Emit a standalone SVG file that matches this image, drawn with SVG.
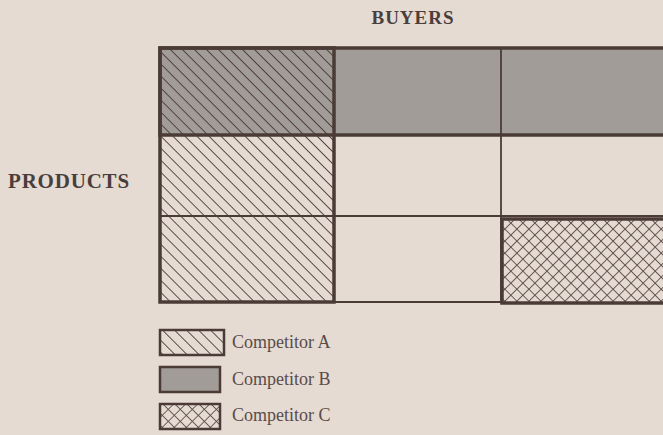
<svg xmlns="http://www.w3.org/2000/svg" width="663" height="435" viewBox="0 0 663 435">
<style>
.title{font-family:"Liberation Serif","Times New Roman",serif;font-weight:bold;font-size:19px;fill:#4a3e3c;letter-spacing:1px}
.leg{font-family:"Liberation Serif","Times New Roman",serif;font-size:18px;fill:#5a4c48}
.thick{stroke:#4b3b36;stroke-width:3.5;fill:none}
.thin{stroke:#4b3b36;stroke-width:1.8;fill:none}
.lbox{stroke:#4b3b36;stroke-width:2.5}
</style>
<defs>
<pattern id="hatchA" patternUnits="userSpaceOnUse" width="8.5" height="8.5" patternTransform="rotate(-45)">
<line x1="0" y1="0" x2="0" y2="8.5" stroke="#4b3b36" stroke-width="1.8"/>
</pattern>
<pattern id="hatchC" patternUnits="userSpaceOnUse" width="8.5" height="8.5" patternTransform="rotate(45)">
<line x1="0" y1="0" x2="0" y2="8.5" stroke="#5a4844" stroke-width="1.7"/>
<line x1="0" y1="0" x2="8.5" y2="0" stroke="#5a4844" stroke-width="1.7"/>
</pattern>
</defs>
<rect width="663" height="435" fill="#e5dbd3"/>
<text class="title" x="413" y="24" text-anchor="middle">BUYERS</text>
<text class="title" x="8" y="188" style="font-size:21px;letter-spacing:0.8px">PRODUCTS</text>
<g id="competitorB-row">
<rect x="160" y="48" width="510" height="87" fill="#a29c98"/>
</g>
<g id="competitorA-column">
<rect x="160" y="48" width="174" height="254" fill="url(#hatchA)"/>
</g>
<g id="competitorC-cell">
<rect x="501" y="218" width="170" height="85" fill="url(#hatchC)"/>
</g>
<g id="grid">
<line class="thin" x1="501" y1="48" x2="501" y2="302"/>
<line class="thin" x1="160" y1="216" x2="663" y2="216"/>
<line class="thin" x1="334" y1="302" x2="501" y2="302"/>
<rect class="thick" x="160" y="48" width="174" height="254"/>
<rect class="thick" x="160" y="48" width="520" height="87"/>
<rect class="thick" x="502" y="219" width="180" height="84"/>
</g>
<g id="legend">
<rect class="lbox" x="160" y="330" width="64" height="25" fill="url(#hatchA)"/>
<text class="leg" x="232" y="348">Competitor A</text>
<rect class="lbox" x="160" y="367" width="60" height="25" fill="#a29c98"/>
<text class="leg" x="232" y="385">Competitor B</text>
<rect class="lbox" x="160" y="404" width="60" height="25" fill="url(#hatchC)"/>
<text class="leg" x="232" y="421">Competitor C</text>
</g>
</svg>
